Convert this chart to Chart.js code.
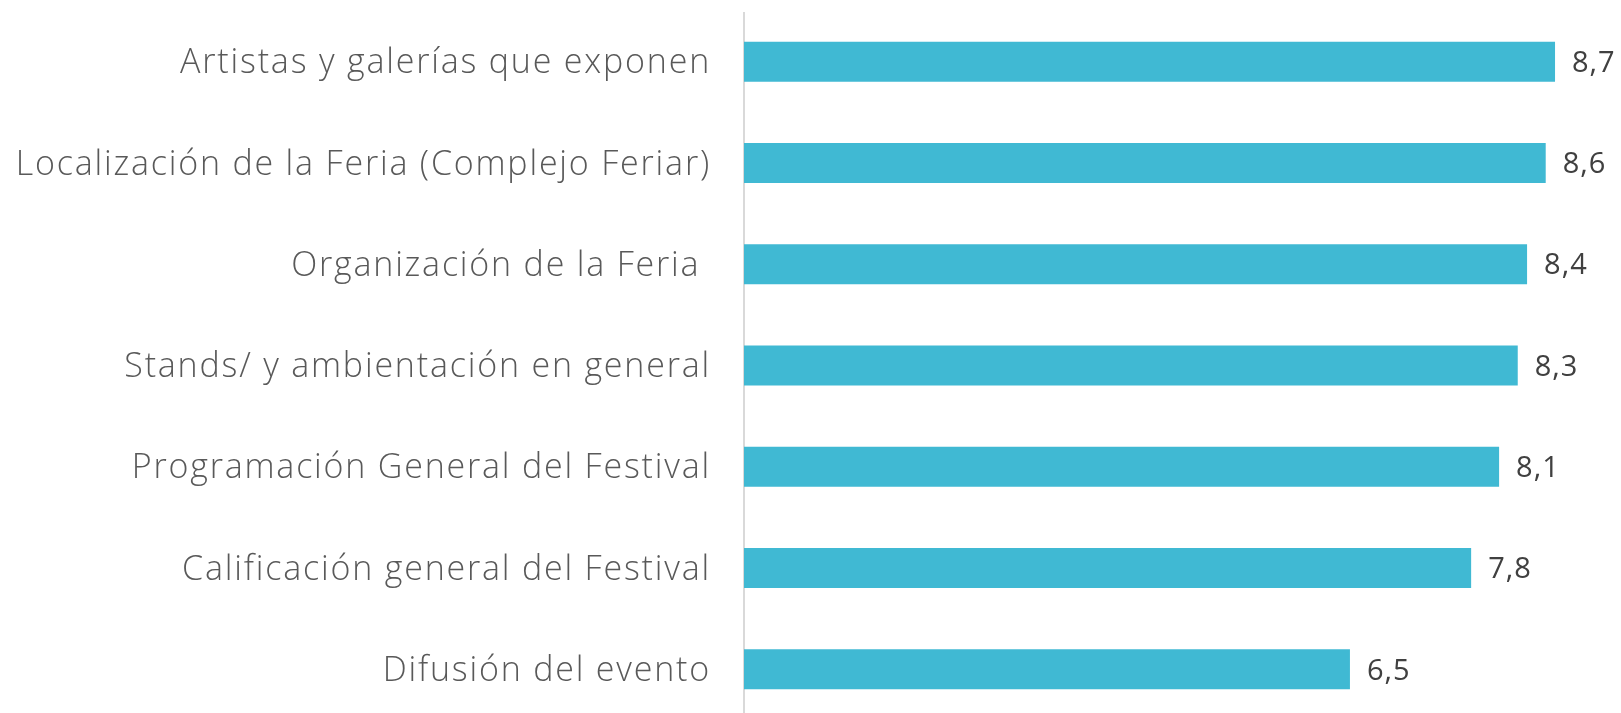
<!DOCTYPE html>
<html>
<head>
<meta charset="utf-8">
<script src="https://cdn.jsdelivr.net/npm/chart.js@4/dist/chart.umd.min.js"></script>
<style>
html,body{margin:0;padding:0;background:#fff;overflow:hidden;}
#wrap{width:1621px;height:720px;}
</style>
</head>
<body>
<div id="wrap"><canvas id="c" width="1621" height="720"></canvas></div>
<script>
const categories = [
  "Artistas y galerías que exponen",
  "Localización de la Feria (Complejo Feriar)",
  "Organización de la Feria ",
  "Stands/ y ambientación en general",
  "Programación General del Festival",
  "Calificación general del Festival",
  "Difusión del evento"
];
const values = [8.7, 8.6, 8.4, 8.3, 8.1, 7.8, 6.5];

const spacing = {
  id: 'spacing',
  beforeDraw(chart) { chart.ctx.save(); chart.ctx.letterSpacing = '1.8px'; chart.ctx.translate(0, 2); },
  beforeDatasetsDraw(chart) { chart.ctx.restore(); }
};

const valueLabels = {
  id: 'valueLabels',
  afterDatasetsDraw(chart) {
    const ctx = chart.ctx;
    const meta = chart.getDatasetMeta(0);
    ctx.save();
    ctx.letterSpacing = '1px';
    ctx.font = '29px "Open Sans"';
    ctx.fillStyle = '#404040';
    ctx.textAlign = 'left';
    ctx.textBaseline = 'middle';
    meta.data.forEach((bar, i) => {
      const txt = values[i].toFixed(1).replace('.', ',');
      ctx.fillText(txt, bar.x + 17, bar.y + 2);
    });
    ctx.restore();
  }
};

new Chart(document.getElementById('c'), {
  type: 'bar',
  data: {
    labels: categories,
    datasets: [{
      data: values,
      backgroundColor: '#40B9D3',
      borderWidth: 0,
      barPercentage: 0.79,
      categoryPercentage: 0.5
    }]
  },
  options: {
    indexAxis: 'y',
    responsive: false,
    animation: false,
    layout: { padding: { top: 11, right: 38, bottom: 0, left: 0 } },
    plugins: { legend: { display: false }, tooltip: { enabled: false } },
    scales: {
      x: {
        min: 0, max: 9,
        display: false,
        grid: { display: false }
      },
      y: {
        grid: { display: false, drawTicks: false },
        border: { display: true, color: '#d9d9d9', width: 2 },
        ticks: {
          color: '#595959',
          font: { family: '"Open Sans"', size: 34, weight: 300 },
          padding: 33
        },
        afterFit(scale) {
          scale.width = 744;
          scale.paddingTop = 0;
          scale.paddingBottom = 0;
        }
      }
    }
  },
  plugins: [spacing, valueLabels]
});
</script>
</body>
</html>
